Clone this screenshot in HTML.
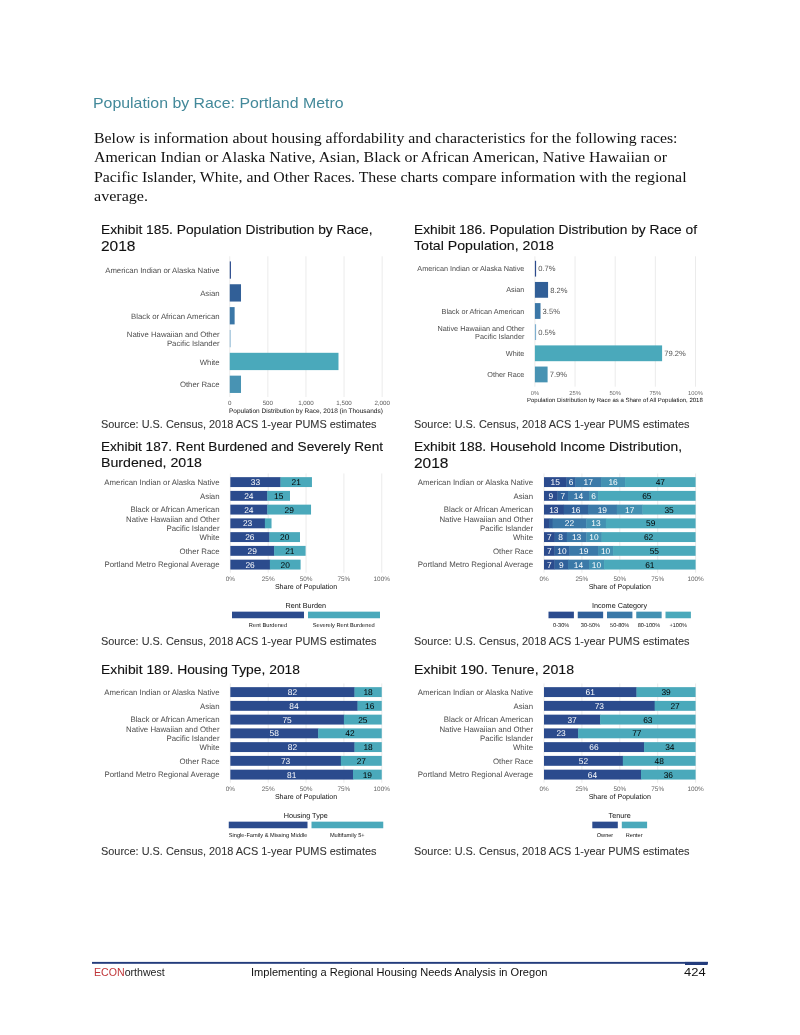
<!DOCTYPE html>
<html lang="en"><head><meta charset="utf-8"><title>Population by Race: Portland Metro</title>
<style>
html,body{margin:0;padding:0;background:#fff}
body{width:800px;height:1035px;position:relative;overflow:hidden}
.t{position:absolute;white-space:nowrap;line-height:1;transform-origin:0 50%}
svg{position:absolute;left:0;top:0}
svg text{font-family:'Liberation Sans',sans-serif;text-rendering:geometricPrecision}
</style></head><body>
<svg width="800" height="1035" viewBox="0 0 800 1035">
<line x1="229.75" y1="256.30" x2="229.75" y2="397.00" stroke="#ebebeb" stroke-width="1"/>
<line x1="267.85" y1="256.30" x2="267.85" y2="397.00" stroke="#ebebeb" stroke-width="1"/>
<line x1="305.95" y1="256.30" x2="305.95" y2="397.00" stroke="#ebebeb" stroke-width="1"/>
<line x1="344.05" y1="256.30" x2="344.05" y2="397.00" stroke="#ebebeb" stroke-width="1"/>
<line x1="382.15" y1="256.30" x2="382.15" y2="397.00" stroke="#ebebeb" stroke-width="1"/>
<rect x="229.75" y="261.40" width="1.20" height="17.30" fill="#2b4b8d"/>
<rect x="229.75" y="284.25" width="11.26" height="17.30" fill="#315f97"/>
<rect x="229.75" y="307.10" width="4.88" height="17.30" fill="#3b77a7"/>
<rect x="229.75" y="329.95" width="0.84" height="17.30" fill="#7fb0d0"/>
<rect x="229.75" y="352.80" width="108.74" height="17.30" fill="#4aa9bb"/>
<rect x="229.75" y="375.65" width="11.26" height="17.30" fill="#4893b3"/>
<text x="219.60" y="273.15" font-size="7.78" fill="#4d4d4d" text-anchor="end">American Indian or Alaska Native</text>
<text x="219.60" y="296.00" font-size="7.78" fill="#4d4d4d" text-anchor="end">Asian</text>
<text x="219.60" y="318.85" font-size="7.78" fill="#4d4d4d" text-anchor="end">Black or African American</text>
<text x="219.60" y="337.45" font-size="7.78" fill="#4d4d4d" text-anchor="end">Native Hawaiian and Other</text>
<text x="219.60" y="345.95" font-size="7.78" fill="#4d4d4d" text-anchor="end">Pacific Islander</text>
<text x="219.60" y="364.55" font-size="7.78" fill="#4d4d4d" text-anchor="end">White</text>
<text x="219.60" y="387.40" font-size="7.78" fill="#4d4d4d" text-anchor="end">Other Race</text>
<text x="229.75" y="405.40" font-size="6.2" fill="#5a5a5a" text-anchor="middle">0</text>
<text x="267.85" y="405.40" font-size="6.2" fill="#5a5a5a" text-anchor="middle">500</text>
<text x="305.95" y="405.40" font-size="6.2" fill="#5a5a5a" text-anchor="middle">1,000</text>
<text x="344.05" y="405.40" font-size="6.2" fill="#5a5a5a" text-anchor="middle">1,500</text>
<text x="382.15" y="405.40" font-size="6.2" fill="#5a5a5a" text-anchor="middle">2,000</text>
<text x="229.00" y="412.90" font-size="6.5" fill="#111" text-anchor="start">Population Distribution by Race, 2018 (in Thousands)</text>
<line x1="534.90" y1="256.30" x2="534.90" y2="386.70" stroke="#ebebeb" stroke-width="1"/>
<line x1="575.05" y1="256.30" x2="575.05" y2="386.70" stroke="#ebebeb" stroke-width="1"/>
<line x1="615.20" y1="256.30" x2="615.20" y2="386.70" stroke="#ebebeb" stroke-width="1"/>
<line x1="655.35" y1="256.30" x2="655.35" y2="386.70" stroke="#ebebeb" stroke-width="1"/>
<line x1="695.50" y1="256.30" x2="695.50" y2="386.70" stroke="#ebebeb" stroke-width="1"/>
<rect x="534.90" y="260.80" width="1.20" height="15.80" fill="#2b4b8d"/>
<text x="538.20" y="271.45" font-size="7.6" fill="#555" text-anchor="start">0.7%</text>
<rect x="534.90" y="281.95" width="13.17" height="15.80" fill="#315f97"/>
<text x="550.17" y="292.60" font-size="7.6" fill="#555" text-anchor="start">8.2%</text>
<rect x="534.90" y="303.10" width="5.62" height="15.80" fill="#3b77a7"/>
<text x="542.62" y="313.75" font-size="7.6" fill="#555" text-anchor="start">3.5%</text>
<rect x="534.90" y="324.25" width="1.20" height="15.80" fill="#7fb0d0"/>
<text x="538.20" y="334.90" font-size="7.6" fill="#555" text-anchor="start">0.5%</text>
<rect x="534.90" y="345.40" width="127.20" height="15.80" fill="#4aa9bb"/>
<text x="664.20" y="356.05" font-size="7.6" fill="#555" text-anchor="start">79.2%</text>
<rect x="534.90" y="366.55" width="12.69" height="15.80" fill="#4893b3"/>
<text x="549.69" y="377.20" font-size="7.6" fill="#555" text-anchor="start">7.9%</text>
<text x="524.40" y="271.32" font-size="7.27" fill="#4d4d4d" text-anchor="end">American Indian or Alaska Native</text>
<text x="524.40" y="292.47" font-size="7.27" fill="#4d4d4d" text-anchor="end">Asian</text>
<text x="524.40" y="313.62" font-size="7.27" fill="#4d4d4d" text-anchor="end">Black or African American</text>
<text x="524.40" y="330.77" font-size="7.27" fill="#4d4d4d" text-anchor="end">Native Hawaiian and Other</text>
<text x="524.40" y="338.77" font-size="7.27" fill="#4d4d4d" text-anchor="end">Pacific Islander</text>
<text x="524.40" y="355.92" font-size="7.27" fill="#4d4d4d" text-anchor="end">White</text>
<text x="524.40" y="377.07" font-size="7.27" fill="#4d4d4d" text-anchor="end">Other Race</text>
<text x="534.90" y="394.60" font-size="5.8" fill="#6a6a6a" text-anchor="middle">0%</text>
<text x="575.05" y="394.60" font-size="5.8" fill="#6a6a6a" text-anchor="middle">25%</text>
<text x="615.20" y="394.60" font-size="5.8" fill="#6a6a6a" text-anchor="middle">50%</text>
<text x="655.35" y="394.60" font-size="5.8" fill="#6a6a6a" text-anchor="middle">75%</text>
<text x="695.50" y="394.60" font-size="5.8" fill="#6a6a6a" text-anchor="middle">100%</text>
<text x="527.00" y="401.60" font-size="6.0" fill="#111" text-anchor="start">Population Distribution by Race as a Share of All Population, 2018</text>
<line x1="230.35" y1="473.45" x2="230.35" y2="572.75" stroke="#ebebeb" stroke-width="1"/>
<line x1="268.20" y1="473.45" x2="268.20" y2="572.75" stroke="#ebebeb" stroke-width="1"/>
<line x1="306.05" y1="473.45" x2="306.05" y2="572.75" stroke="#ebebeb" stroke-width="1"/>
<line x1="343.90" y1="473.45" x2="343.90" y2="572.75" stroke="#ebebeb" stroke-width="1"/>
<line x1="381.75" y1="473.45" x2="381.75" y2="572.75" stroke="#ebebeb" stroke-width="1"/>
<rect x="230.35" y="477.15" width="50.41" height="9.90" fill="#2b4b8d"/>
<text x="255.41" y="485.10" font-size="8.4" fill="#fff" text-anchor="middle">33</text>
<rect x="280.46" y="477.15" width="31.49" height="9.90" fill="#4aa9bb"/>
<text x="296.21" y="485.10" font-size="8.4" fill="#000" text-anchor="middle">21</text>
<rect x="230.35" y="490.90" width="37.24" height="9.90" fill="#2b4b8d"/>
<text x="248.82" y="498.85" font-size="8.4" fill="#fff" text-anchor="middle">24</text>
<rect x="267.29" y="490.90" width="22.71" height="9.90" fill="#4aa9bb"/>
<text x="278.65" y="498.85" font-size="8.4" fill="#000" text-anchor="middle">15</text>
<rect x="230.35" y="504.65" width="37.24" height="9.90" fill="#2b4b8d"/>
<text x="248.82" y="512.60" font-size="8.4" fill="#fff" text-anchor="middle">24</text>
<rect x="267.29" y="504.65" width="43.75" height="9.90" fill="#4aa9bb"/>
<text x="289.17" y="512.60" font-size="8.4" fill="#000" text-anchor="middle">29</text>
<rect x="230.35" y="518.40" width="34.82" height="9.90" fill="#2b4b8d"/>
<text x="247.61" y="526.35" font-size="8.4" fill="#fff" text-anchor="middle">23</text>
<rect x="264.87" y="518.40" width="6.66" height="9.90" fill="#4aa9bb"/>
<rect x="230.35" y="532.15" width="39.36" height="9.90" fill="#2b4b8d"/>
<text x="249.88" y="540.10" font-size="8.4" fill="#fff" text-anchor="middle">26</text>
<rect x="269.41" y="532.15" width="30.58" height="9.90" fill="#4aa9bb"/>
<text x="284.70" y="540.10" font-size="8.4" fill="#000" text-anchor="middle">20</text>
<rect x="230.35" y="545.90" width="44.05" height="9.90" fill="#2b4b8d"/>
<text x="252.23" y="553.85" font-size="8.4" fill="#fff" text-anchor="middle">29</text>
<rect x="274.10" y="545.90" width="31.49" height="9.90" fill="#4aa9bb"/>
<text x="289.85" y="553.85" font-size="8.4" fill="#000" text-anchor="middle">21</text>
<rect x="230.35" y="559.65" width="39.82" height="9.90" fill="#2b4b8d"/>
<text x="250.11" y="567.60" font-size="8.4" fill="#fff" text-anchor="middle">26</text>
<rect x="269.87" y="559.65" width="30.73" height="9.90" fill="#4aa9bb"/>
<text x="285.23" y="567.60" font-size="8.4" fill="#000" text-anchor="middle">20</text>
<text x="219.60" y="484.92" font-size="7.84" fill="#4d4d4d" text-anchor="end">American Indian or Alaska Native</text>
<text x="219.60" y="498.67" font-size="7.84" fill="#4d4d4d" text-anchor="end">Asian</text>
<text x="219.60" y="512.42" font-size="7.84" fill="#4d4d4d" text-anchor="end">Black or African American</text>
<text x="219.60" y="521.82" font-size="7.84" fill="#4d4d4d" text-anchor="end">Native Hawaiian and Other</text>
<text x="219.60" y="530.52" font-size="7.84" fill="#4d4d4d" text-anchor="end">Pacific Islander</text>
<text x="219.60" y="539.92" font-size="7.84" fill="#4d4d4d" text-anchor="end">White</text>
<text x="219.60" y="553.67" font-size="7.84" fill="#4d4d4d" text-anchor="end">Other Race</text>
<text x="219.60" y="567.42" font-size="7.84" fill="#4d4d4d" text-anchor="end">Portland Metro Regional Average</text>
<text x="230.35" y="581.15" font-size="6.4" fill="#666" text-anchor="middle">0%</text>
<text x="268.20" y="581.15" font-size="6.4" fill="#666" text-anchor="middle">25%</text>
<text x="306.05" y="581.15" font-size="6.4" fill="#666" text-anchor="middle">50%</text>
<text x="343.90" y="581.15" font-size="6.4" fill="#666" text-anchor="middle">75%</text>
<text x="381.75" y="581.15" font-size="6.4" fill="#666" text-anchor="middle">100%</text>
<text x="306.05" y="589.25" font-size="7.1" fill="#111" text-anchor="middle">Share of Population</text>
<text x="305.75" y="607.55" font-size="7.25" fill="#111" text-anchor="middle">Rent Burden</text>
<rect x="232.00" y="611.65" width="72.00" height="6.60" fill="#2b4b8d"/>
<text x="268.00" y="626.65" font-size="5.7" fill="#111" text-anchor="middle">Rent Burdened</text>
<rect x="308.00" y="611.65" width="72.00" height="6.60" fill="#4aa9bb"/>
<text x="343.75" y="626.65" font-size="5.7" fill="#111" text-anchor="middle">Severely Rent Burdened</text>
<line x1="544.00" y1="473.45" x2="544.00" y2="572.75" stroke="#ebebeb" stroke-width="1"/>
<line x1="581.90" y1="473.45" x2="581.90" y2="572.75" stroke="#ebebeb" stroke-width="1"/>
<line x1="619.80" y1="473.45" x2="619.80" y2="572.75" stroke="#ebebeb" stroke-width="1"/>
<line x1="657.70" y1="473.45" x2="657.70" y2="572.75" stroke="#ebebeb" stroke-width="1"/>
<line x1="695.60" y1="473.45" x2="695.60" y2="572.75" stroke="#ebebeb" stroke-width="1"/>
<rect x="544.00" y="477.15" width="22.81" height="9.90" fill="#2b4b8d"/>
<text x="555.26" y="485.10" font-size="8.4" fill="#fff" text-anchor="middle">15</text>
<rect x="566.51" y="477.15" width="9.31" height="9.90" fill="#30609a"/>
<text x="571.02" y="485.10" font-size="8.4" fill="#fff" text-anchor="middle">6</text>
<rect x="575.52" y="477.15" width="25.82" height="9.90" fill="#3b79a8"/>
<text x="588.28" y="485.10" font-size="8.4" fill="#fff" text-anchor="middle">17</text>
<rect x="601.04" y="477.15" width="24.32" height="9.90" fill="#4391b2"/>
<text x="613.05" y="485.10" font-size="8.4" fill="#fff" text-anchor="middle">16</text>
<rect x="625.05" y="477.15" width="70.55" height="9.90" fill="#4aa9bb"/>
<text x="660.33" y="485.10" font-size="8.4" fill="#000" text-anchor="middle">47</text>
<rect x="544.00" y="490.90" width="13.81" height="9.90" fill="#2b4b8d"/>
<text x="550.75" y="498.85" font-size="8.4" fill="#fff" text-anchor="middle">9</text>
<rect x="557.51" y="490.90" width="10.81" height="9.90" fill="#30609a"/>
<text x="562.76" y="498.85" font-size="8.4" fill="#fff" text-anchor="middle">7</text>
<rect x="568.02" y="490.90" width="21.31" height="9.90" fill="#3b79a8"/>
<text x="578.52" y="498.85" font-size="8.4" fill="#fff" text-anchor="middle">14</text>
<rect x="589.03" y="490.90" width="9.31" height="9.90" fill="#4391b2"/>
<text x="593.53" y="498.85" font-size="8.4" fill="#fff" text-anchor="middle">6</text>
<rect x="598.04" y="490.90" width="97.56" height="9.90" fill="#4aa9bb"/>
<text x="646.82" y="498.85" font-size="8.4" fill="#000" text-anchor="middle">65</text>
<rect x="544.00" y="504.65" width="20.01" height="9.90" fill="#2b4b8d"/>
<text x="553.85" y="512.60" font-size="8.4" fill="#fff" text-anchor="middle">13</text>
<rect x="563.71" y="504.65" width="24.56" height="9.90" fill="#30609a"/>
<text x="575.84" y="512.60" font-size="8.4" fill="#fff" text-anchor="middle">16</text>
<rect x="587.96" y="504.65" width="29.10" height="9.90" fill="#3b79a8"/>
<text x="602.37" y="512.60" font-size="8.4" fill="#fff" text-anchor="middle">19</text>
<rect x="616.77" y="504.65" width="26.07" height="9.90" fill="#4391b2"/>
<text x="629.65" y="512.60" font-size="8.4" fill="#fff" text-anchor="middle">17</text>
<rect x="642.54" y="504.65" width="53.06" height="9.90" fill="#4aa9bb"/>
<text x="669.07" y="512.60" font-size="8.4" fill="#000" text-anchor="middle">35</text>
<rect x="544.00" y="518.40" width="5.32" height="9.90" fill="#2b4b8d"/>
<rect x="549.02" y="518.40" width="3.95" height="9.90" fill="#30609a"/>
<rect x="552.67" y="518.40" width="33.75" height="9.90" fill="#3b79a8"/>
<text x="569.39" y="526.35" font-size="8.4" fill="#fff" text-anchor="middle">22</text>
<rect x="586.12" y="518.40" width="20.07" height="9.90" fill="#4391b2"/>
<text x="596.00" y="526.35" font-size="8.4" fill="#fff" text-anchor="middle">13</text>
<rect x="605.89" y="518.40" width="89.71" height="9.90" fill="#4aa9bb"/>
<text x="650.74" y="526.35" font-size="8.4" fill="#000" text-anchor="middle">59</text>
<rect x="544.00" y="532.15" width="10.91" height="9.90" fill="#2b4b8d"/>
<text x="549.31" y="540.10" font-size="8.4" fill="#fff" text-anchor="middle">7</text>
<rect x="554.61" y="532.15" width="12.43" height="9.90" fill="#30609a"/>
<text x="560.68" y="540.10" font-size="8.4" fill="#fff" text-anchor="middle">8</text>
<rect x="566.74" y="532.15" width="20.01" height="9.90" fill="#3b79a8"/>
<text x="576.59" y="540.10" font-size="8.4" fill="#fff" text-anchor="middle">13</text>
<rect x="586.45" y="532.15" width="15.46" height="9.90" fill="#4391b2"/>
<text x="594.03" y="540.10" font-size="8.4" fill="#fff" text-anchor="middle">10</text>
<rect x="601.61" y="532.15" width="93.99" height="9.90" fill="#4aa9bb"/>
<text x="648.60" y="540.10" font-size="8.4" fill="#000" text-anchor="middle">62</text>
<rect x="544.00" y="545.90" width="10.81" height="9.90" fill="#2b4b8d"/>
<text x="549.25" y="553.85" font-size="8.4" fill="#fff" text-anchor="middle">7</text>
<rect x="554.51" y="545.90" width="15.31" height="9.90" fill="#30609a"/>
<text x="562.01" y="553.85" font-size="8.4" fill="#fff" text-anchor="middle">10</text>
<rect x="569.52" y="545.90" width="28.82" height="9.90" fill="#3b79a8"/>
<text x="583.78" y="553.85" font-size="8.4" fill="#fff" text-anchor="middle">19</text>
<rect x="598.04" y="545.90" width="15.31" height="9.90" fill="#4391b2"/>
<text x="605.54" y="553.85" font-size="8.4" fill="#fff" text-anchor="middle">10</text>
<rect x="613.05" y="545.90" width="82.55" height="9.90" fill="#4aa9bb"/>
<text x="654.32" y="553.85" font-size="8.4" fill="#000" text-anchor="middle">55</text>
<rect x="544.00" y="559.65" width="10.81" height="9.90" fill="#2b4b8d"/>
<text x="549.25" y="567.60" font-size="8.4" fill="#fff" text-anchor="middle">7</text>
<rect x="554.51" y="559.65" width="13.81" height="9.90" fill="#30609a"/>
<text x="561.26" y="567.60" font-size="8.4" fill="#fff" text-anchor="middle">9</text>
<rect x="568.02" y="559.65" width="21.31" height="9.90" fill="#3b79a8"/>
<text x="578.52" y="567.60" font-size="8.4" fill="#fff" text-anchor="middle">14</text>
<rect x="589.03" y="559.65" width="15.31" height="9.90" fill="#4391b2"/>
<text x="596.53" y="567.60" font-size="8.4" fill="#fff" text-anchor="middle">10</text>
<rect x="604.04" y="559.65" width="91.56" height="9.90" fill="#4aa9bb"/>
<text x="649.82" y="567.60" font-size="8.4" fill="#000" text-anchor="middle">61</text>
<text x="533.00" y="484.92" font-size="7.84" fill="#4d4d4d" text-anchor="end">American Indian or Alaska Native</text>
<text x="533.00" y="498.67" font-size="7.84" fill="#4d4d4d" text-anchor="end">Asian</text>
<text x="533.00" y="512.42" font-size="7.84" fill="#4d4d4d" text-anchor="end">Black or African American</text>
<text x="533.00" y="521.82" font-size="7.84" fill="#4d4d4d" text-anchor="end">Native Hawaiian and Other</text>
<text x="533.00" y="530.52" font-size="7.84" fill="#4d4d4d" text-anchor="end">Pacific Islander</text>
<text x="533.00" y="539.92" font-size="7.84" fill="#4d4d4d" text-anchor="end">White</text>
<text x="533.00" y="553.67" font-size="7.84" fill="#4d4d4d" text-anchor="end">Other Race</text>
<text x="533.00" y="567.42" font-size="7.84" fill="#4d4d4d" text-anchor="end">Portland Metro Regional Average</text>
<text x="544.00" y="581.15" font-size="6.4" fill="#666" text-anchor="middle">0%</text>
<text x="581.90" y="581.15" font-size="6.4" fill="#666" text-anchor="middle">25%</text>
<text x="619.80" y="581.15" font-size="6.4" fill="#666" text-anchor="middle">50%</text>
<text x="657.70" y="581.15" font-size="6.4" fill="#666" text-anchor="middle">75%</text>
<text x="695.60" y="581.15" font-size="6.4" fill="#666" text-anchor="middle">100%</text>
<text x="619.80" y="589.25" font-size="7.1" fill="#111" text-anchor="middle">Share of Population</text>
<text x="619.50" y="607.55" font-size="7.25" fill="#111" text-anchor="middle">Income Category</text>
<rect x="548.50" y="611.65" width="25.40" height="6.60" fill="#2b4b8d"/>
<text x="561.20" y="626.65" font-size="5.6" fill="#111" text-anchor="middle">0-30%</text>
<rect x="577.75" y="611.65" width="25.40" height="6.60" fill="#30609a"/>
<text x="590.45" y="626.65" font-size="5.6" fill="#111" text-anchor="middle">30-50%</text>
<rect x="607.00" y="611.65" width="25.40" height="6.60" fill="#3b79a8"/>
<text x="619.70" y="626.65" font-size="5.6" fill="#111" text-anchor="middle">50-80%</text>
<rect x="636.25" y="611.65" width="25.40" height="6.60" fill="#4391b2"/>
<text x="648.95" y="626.65" font-size="5.6" fill="#111" text-anchor="middle">80-100%</text>
<rect x="665.50" y="611.65" width="25.40" height="6.60" fill="#4aa9bb"/>
<text x="678.20" y="626.65" font-size="5.6" fill="#111" text-anchor="middle">+100%</text>
<line x1="230.35" y1="683.45" x2="230.35" y2="782.75" stroke="#ebebeb" stroke-width="1"/>
<line x1="268.20" y1="683.45" x2="268.20" y2="782.75" stroke="#ebebeb" stroke-width="1"/>
<line x1="306.05" y1="683.45" x2="306.05" y2="782.75" stroke="#ebebeb" stroke-width="1"/>
<line x1="343.90" y1="683.45" x2="343.90" y2="782.75" stroke="#ebebeb" stroke-width="1"/>
<line x1="381.75" y1="683.45" x2="381.75" y2="782.75" stroke="#ebebeb" stroke-width="1"/>
<rect x="230.35" y="687.15" width="124.45" height="9.90" fill="#2b4b8d"/>
<text x="292.42" y="695.10" font-size="8.4" fill="#fff" text-anchor="middle">82</text>
<rect x="354.50" y="687.15" width="27.25" height="9.90" fill="#4aa9bb"/>
<text x="368.12" y="695.10" font-size="8.4" fill="#000" text-anchor="middle">18</text>
<rect x="230.35" y="700.90" width="127.48" height="9.90" fill="#2b4b8d"/>
<text x="293.94" y="708.85" font-size="8.4" fill="#fff" text-anchor="middle">84</text>
<rect x="357.53" y="700.90" width="24.22" height="9.90" fill="#4aa9bb"/>
<text x="369.64" y="708.85" font-size="8.4" fill="#000" text-anchor="middle">16</text>
<rect x="230.35" y="714.65" width="113.85" height="9.90" fill="#2b4b8d"/>
<text x="287.12" y="722.60" font-size="8.4" fill="#fff" text-anchor="middle">75</text>
<rect x="343.90" y="714.65" width="37.85" height="9.90" fill="#4aa9bb"/>
<text x="362.82" y="722.60" font-size="8.4" fill="#000" text-anchor="middle">25</text>
<rect x="230.35" y="728.40" width="88.11" height="9.90" fill="#2b4b8d"/>
<text x="274.26" y="736.35" font-size="8.4" fill="#fff" text-anchor="middle">58</text>
<rect x="318.16" y="728.40" width="63.59" height="9.90" fill="#4aa9bb"/>
<text x="349.96" y="736.35" font-size="8.4" fill="#000" text-anchor="middle">42</text>
<rect x="230.35" y="742.15" width="124.45" height="9.90" fill="#2b4b8d"/>
<text x="292.42" y="750.10" font-size="8.4" fill="#fff" text-anchor="middle">82</text>
<rect x="354.50" y="742.15" width="27.25" height="9.90" fill="#4aa9bb"/>
<text x="368.12" y="750.10" font-size="8.4" fill="#000" text-anchor="middle">18</text>
<rect x="230.35" y="755.90" width="110.82" height="9.90" fill="#2b4b8d"/>
<text x="285.61" y="763.85" font-size="8.4" fill="#fff" text-anchor="middle">73</text>
<rect x="340.87" y="755.90" width="40.88" height="9.90" fill="#4aa9bb"/>
<text x="361.31" y="763.85" font-size="8.4" fill="#000" text-anchor="middle">27</text>
<rect x="230.35" y="769.65" width="122.93" height="9.90" fill="#2b4b8d"/>
<text x="291.67" y="777.60" font-size="8.4" fill="#fff" text-anchor="middle">81</text>
<rect x="352.98" y="769.65" width="28.77" height="9.90" fill="#4aa9bb"/>
<text x="367.37" y="777.60" font-size="8.4" fill="#000" text-anchor="middle">19</text>
<text x="219.60" y="694.92" font-size="7.84" fill="#4d4d4d" text-anchor="end">American Indian or Alaska Native</text>
<text x="219.60" y="708.67" font-size="7.84" fill="#4d4d4d" text-anchor="end">Asian</text>
<text x="219.60" y="722.42" font-size="7.84" fill="#4d4d4d" text-anchor="end">Black or African American</text>
<text x="219.60" y="731.82" font-size="7.84" fill="#4d4d4d" text-anchor="end">Native Hawaiian and Other</text>
<text x="219.60" y="740.52" font-size="7.84" fill="#4d4d4d" text-anchor="end">Pacific Islander</text>
<text x="219.60" y="749.92" font-size="7.84" fill="#4d4d4d" text-anchor="end">White</text>
<text x="219.60" y="763.67" font-size="7.84" fill="#4d4d4d" text-anchor="end">Other Race</text>
<text x="219.60" y="777.42" font-size="7.84" fill="#4d4d4d" text-anchor="end">Portland Metro Regional Average</text>
<text x="230.35" y="791.15" font-size="6.4" fill="#666" text-anchor="middle">0%</text>
<text x="268.20" y="791.15" font-size="6.4" fill="#666" text-anchor="middle">25%</text>
<text x="306.05" y="791.15" font-size="6.4" fill="#666" text-anchor="middle">50%</text>
<text x="343.90" y="791.15" font-size="6.4" fill="#666" text-anchor="middle">75%</text>
<text x="381.75" y="791.15" font-size="6.4" fill="#666" text-anchor="middle">100%</text>
<text x="306.05" y="799.25" font-size="7.1" fill="#111" text-anchor="middle">Share of Population</text>
<text x="305.75" y="817.55" font-size="7.25" fill="#111" text-anchor="middle">Housing Type</text>
<rect x="228.75" y="821.65" width="78.75" height="6.60" fill="#2b4b8d"/>
<text x="268.10" y="836.65" font-size="5.67" fill="#111" text-anchor="middle">Single-Family &amp; Missing Middle</text>
<rect x="311.50" y="821.65" width="71.75" height="6.60" fill="#4aa9bb"/>
<text x="347.25" y="836.65" font-size="5.67" fill="#111" text-anchor="middle">Multifamily 5+</text>
<line x1="544.00" y1="683.45" x2="544.00" y2="782.75" stroke="#ebebeb" stroke-width="1"/>
<line x1="581.90" y1="683.45" x2="581.90" y2="782.75" stroke="#ebebeb" stroke-width="1"/>
<line x1="619.80" y1="683.45" x2="619.80" y2="782.75" stroke="#ebebeb" stroke-width="1"/>
<line x1="657.70" y1="683.45" x2="657.70" y2="782.75" stroke="#ebebeb" stroke-width="1"/>
<line x1="695.60" y1="683.45" x2="695.60" y2="782.75" stroke="#ebebeb" stroke-width="1"/>
<rect x="544.00" y="687.15" width="92.78" height="9.90" fill="#2b4b8d"/>
<text x="590.24" y="695.10" font-size="8.4" fill="#fff" text-anchor="middle">61</text>
<rect x="636.48" y="687.15" width="59.12" height="9.90" fill="#4aa9bb"/>
<text x="666.04" y="695.10" font-size="8.4" fill="#000" text-anchor="middle">39</text>
<rect x="544.00" y="700.90" width="110.97" height="9.90" fill="#2b4b8d"/>
<text x="599.33" y="708.85" font-size="8.4" fill="#fff" text-anchor="middle">73</text>
<rect x="654.67" y="700.90" width="40.93" height="9.90" fill="#4aa9bb"/>
<text x="675.13" y="708.85" font-size="8.4" fill="#000" text-anchor="middle">27</text>
<rect x="544.00" y="714.65" width="56.39" height="9.90" fill="#2b4b8d"/>
<text x="572.05" y="722.60" font-size="8.4" fill="#fff" text-anchor="middle">37</text>
<rect x="600.09" y="714.65" width="95.51" height="9.90" fill="#4aa9bb"/>
<text x="647.85" y="722.60" font-size="8.4" fill="#000" text-anchor="middle">63</text>
<rect x="544.00" y="728.40" width="34.41" height="9.90" fill="#2b4b8d"/>
<text x="561.05" y="736.35" font-size="8.4" fill="#fff" text-anchor="middle">23</text>
<rect x="578.11" y="728.40" width="117.49" height="9.90" fill="#4aa9bb"/>
<text x="636.86" y="736.35" font-size="8.4" fill="#000" text-anchor="middle">77</text>
<rect x="544.00" y="742.15" width="100.36" height="9.90" fill="#2b4b8d"/>
<text x="594.03" y="750.10" font-size="8.4" fill="#fff" text-anchor="middle">66</text>
<rect x="644.06" y="742.15" width="51.54" height="9.90" fill="#4aa9bb"/>
<text x="669.83" y="750.10" font-size="8.4" fill="#000" text-anchor="middle">34</text>
<rect x="544.00" y="755.90" width="79.13" height="9.90" fill="#2b4b8d"/>
<text x="583.42" y="763.85" font-size="8.4" fill="#fff" text-anchor="middle">52</text>
<rect x="622.83" y="755.90" width="72.77" height="9.90" fill="#4aa9bb"/>
<text x="659.22" y="763.85" font-size="8.4" fill="#000" text-anchor="middle">48</text>
<rect x="544.00" y="769.65" width="97.32" height="9.90" fill="#2b4b8d"/>
<text x="592.51" y="777.60" font-size="8.4" fill="#fff" text-anchor="middle">64</text>
<rect x="641.02" y="769.65" width="54.58" height="9.90" fill="#4aa9bb"/>
<text x="668.31" y="777.60" font-size="8.4" fill="#000" text-anchor="middle">36</text>
<text x="533.00" y="694.92" font-size="7.84" fill="#4d4d4d" text-anchor="end">American Indian or Alaska Native</text>
<text x="533.00" y="708.67" font-size="7.84" fill="#4d4d4d" text-anchor="end">Asian</text>
<text x="533.00" y="722.42" font-size="7.84" fill="#4d4d4d" text-anchor="end">Black or African American</text>
<text x="533.00" y="731.82" font-size="7.84" fill="#4d4d4d" text-anchor="end">Native Hawaiian and Other</text>
<text x="533.00" y="740.52" font-size="7.84" fill="#4d4d4d" text-anchor="end">Pacific Islander</text>
<text x="533.00" y="749.92" font-size="7.84" fill="#4d4d4d" text-anchor="end">White</text>
<text x="533.00" y="763.67" font-size="7.84" fill="#4d4d4d" text-anchor="end">Other Race</text>
<text x="533.00" y="777.42" font-size="7.84" fill="#4d4d4d" text-anchor="end">Portland Metro Regional Average</text>
<text x="544.00" y="791.15" font-size="6.4" fill="#666" text-anchor="middle">0%</text>
<text x="581.90" y="791.15" font-size="6.4" fill="#666" text-anchor="middle">25%</text>
<text x="619.80" y="791.15" font-size="6.4" fill="#666" text-anchor="middle">50%</text>
<text x="657.70" y="791.15" font-size="6.4" fill="#666" text-anchor="middle">75%</text>
<text x="695.60" y="791.15" font-size="6.4" fill="#666" text-anchor="middle">100%</text>
<text x="619.80" y="799.25" font-size="7.1" fill="#111" text-anchor="middle">Share of Population</text>
<text x="619.60" y="817.55" font-size="7.25" fill="#111" text-anchor="middle">Tenure</text>
<rect x="592.30" y="821.65" width="25.50" height="6.60" fill="#2b4b8d"/>
<text x="605.00" y="836.65" font-size="5.6" fill="#111" text-anchor="middle">Owner</text>
<rect x="621.80" y="821.65" width="25.30" height="6.60" fill="#4aa9bb"/>
<text x="634.20" y="836.65" font-size="5.6" fill="#111" text-anchor="middle">Renter</text>
<rect x="92.00" y="961.90" width="616.00" height="1.90" fill="#233c7c"/>
<rect x="685.00" y="961.90" width="22.60" height="3.10" fill="#233c7c"/>
</svg>
<h1 class="t" id="t0" style="margin:0;font-weight:normal;left:93.3px;top:95.00px;font-size:15px;font-family:'Liberation Sans',sans-serif;color:#43899a;transform:scaleX(1.0578);">Population by Race: Portland Metro</h1>
<p class="t" id="t1" style="margin:0;font-weight:normal;left:93.6px;top:130.02px;font-size:15.5px;font-family:'Liberation Serif',serif;color:#111;transform:scaleX(1.0205);">Below is information about housing affordability and characteristics for the following races:</p>
<p class="t" id="t2" style="margin:0;font-weight:normal;left:93.6px;top:149.22px;font-size:15.5px;font-family:'Liberation Serif',serif;color:#111;transform:scaleX(1.0233);">American Indian or Alaska Native, Asian, Black or African American, Native Hawaiian or</p>
<p class="t" id="t3" style="margin:0;font-weight:normal;left:93.6px;top:168.72px;font-size:15.5px;font-family:'Liberation Serif',serif;color:#111;transform:scaleX(1.0211);">Pacific Islander, White, and Other Races. These charts compare information with the regional</p>
<p class="t" id="t4" style="margin:0;font-weight:normal;left:93.6px;top:188.02px;font-size:15.5px;font-family:'Liberation Serif',serif;color:#111;transform:scaleX(1.0372);">average.</p>
<div class="t" id="t5" style="margin:0;font-weight:normal;left:100.6px;top:222.97px;font-size:13.5px;font-family:'Liberation Sans',sans-serif;color:#111;-webkit-text-stroke:0.12px #111;transform:scaleX(1.0191);">Exhibit 185. Population Distribution by Race,</div>
<div class="t" id="t6" style="margin:0;font-weight:normal;left:100.6px;top:238.50px;font-size:14.3px;font-family:'Liberation Sans',sans-serif;color:#111;-webkit-text-stroke:0.12px #111;transform:scaleX(1.0845);">2018</div>
<div class="t" id="t7" style="margin:0;font-weight:normal;left:414.0px;top:222.97px;font-size:13.5px;font-family:'Liberation Sans',sans-serif;color:#111;-webkit-text-stroke:0.12px #111;transform:scaleX(1.0192);">Exhibit 186. Population Distribution by Race of</div>
<div class="t" id="t8" style="margin:0;font-weight:normal;left:414.0px;top:239.17px;font-size:13.5px;font-family:'Liberation Sans',sans-serif;color:#111;-webkit-text-stroke:0.12px #111;transform:scaleX(1.0478);">Total Population, 2018</div>
<div class="t" id="t9" style="margin:0;font-weight:normal;left:100.6px;top:440.37px;font-size:13.5px;font-family:'Liberation Sans',sans-serif;color:#111;-webkit-text-stroke:0.12px #111;transform:scaleX(1.0074);">Exhibit 187. Rent Burdened and Severely Rent</div>
<div class="t" id="t10" style="margin:0;font-weight:normal;left:100.6px;top:456.07px;font-size:13.5px;font-family:'Liberation Sans',sans-serif;color:#111;-webkit-text-stroke:0.12px #111;transform:scaleX(1.0511);">Burdened, 2018</div>
<div class="t" id="t11" style="margin:0;font-weight:normal;left:414.0px;top:440.37px;font-size:13.5px;font-family:'Liberation Sans',sans-serif;color:#111;-webkit-text-stroke:0.12px #111;transform:scaleX(1.0233);">Exhibit 188. Household Income Distribution,</div>
<div class="t" id="t12" style="margin:0;font-weight:normal;left:414.0px;top:455.50px;font-size:14.3px;font-family:'Liberation Sans',sans-serif;color:#111;-webkit-text-stroke:0.12px #111;transform:scaleX(1.0845);">2018</div>
<div class="t" id="t13" style="margin:0;font-weight:normal;left:100.6px;top:663.07px;font-size:13.5px;font-family:'Liberation Sans',sans-serif;color:#111;-webkit-text-stroke:0.12px #111;transform:scaleX(1.0250);">Exhibit 189. Housing Type, 2018</div>
<div class="t" id="t14" style="margin:0;font-weight:normal;left:414.0px;top:663.07px;font-size:13.5px;font-family:'Liberation Sans',sans-serif;color:#111;-webkit-text-stroke:0.12px #111;transform:scaleX(1.0466);">Exhibit 190. Tenure, 2018</div>
<div class="t" id="t15" style="margin:0;font-weight:normal;left:100.7px;top:419.09px;font-size:11px;font-family:'Liberation Sans',sans-serif;color:#333;-webkit-text-stroke:0.08px #333;transform:scaleX(0.9926);">Source: U.S. Census, 2018 ACS 1-year PUMS estimates</div>
<div class="t" id="t16" style="margin:0;font-weight:normal;left:100.7px;top:636.09px;font-size:11px;font-family:'Liberation Sans',sans-serif;color:#333;-webkit-text-stroke:0.08px #333;transform:scaleX(0.9926);">Source: U.S. Census, 2018 ACS 1-year PUMS estimates</div>
<div class="t" id="t17" style="margin:0;font-weight:normal;left:100.7px;top:846.09px;font-size:11px;font-family:'Liberation Sans',sans-serif;color:#333;-webkit-text-stroke:0.08px #333;transform:scaleX(0.9926);">Source: U.S. Census, 2018 ACS 1-year PUMS estimates</div>
<div class="t" id="t18" style="margin:0;font-weight:normal;left:414.0px;top:419.09px;font-size:11px;font-family:'Liberation Sans',sans-serif;color:#333;-webkit-text-stroke:0.08px #333;transform:scaleX(0.9926);">Source: U.S. Census, 2018 ACS 1-year PUMS estimates</div>
<div class="t" id="t19" style="margin:0;font-weight:normal;left:414.0px;top:636.09px;font-size:11px;font-family:'Liberation Sans',sans-serif;color:#333;-webkit-text-stroke:0.08px #333;transform:scaleX(0.9926);">Source: U.S. Census, 2018 ACS 1-year PUMS estimates</div>
<div class="t" id="t20" style="margin:0;font-weight:normal;left:414.0px;top:846.09px;font-size:11px;font-family:'Liberation Sans',sans-serif;color:#333;-webkit-text-stroke:0.08px #333;transform:scaleX(0.9926);">Source: U.S. Census, 2018 ACS 1-year PUMS estimates</div>
<div class="t" id="t21" style="margin:0;font-weight:normal;left:94.25px;top:966.78px;font-size:10.6px;font-family:'Liberation Sans',sans-serif;color:#222;transform:scaleX(1.0013);"><span style='color:#c0373a'>ECON</span>orthwest</div>
<div class="t" id="t22" style="margin:0;font-weight:normal;left:251.3px;top:967.34px;font-size:10.7px;font-family:'Liberation Sans',sans-serif;color:#111;transform:scaleX(1.0354);">Implementing a Regional Housing Needs Analysis in Oregon</div>
<div class="t" id="t23" style="margin:0;font-weight:normal;left:684.4px;top:967.26px;font-size:10.8px;font-family:'Liberation Sans',sans-serif;color:#111;transform:scaleX(1.1990);">424</div>
</body></html>
